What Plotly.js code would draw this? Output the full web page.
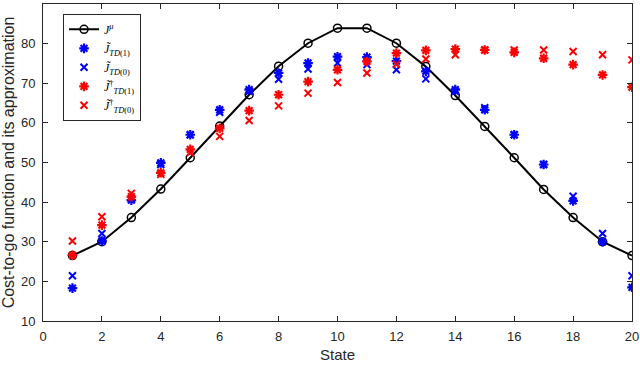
<!DOCTYPE html>
<html>
<head>
<meta charset="utf-8">
<script src="https://cdn.plot.ly/plotly-3.0.1.min.js"></script>
<style>
  html, body { margin: 0; padding: 0; background: #fff; }
  #chart { width: 640px; height: 366px; }
</style>
</head>
<body>
<div id="chart"></div>
<script>
// 状態 1..20
const states = [1, 2, 3, 4, 5, 6, 7, 8, 9, 10, 11, 12, 13, 14, 15, 16, 17, 18, 19, 20];

// J^mu (真の cost-to-go)
const jMu = [26.5, 30.0, 36.1, 43.3, 51.2, 59.2, 67.1, 74.3, 80.1, 83.9,
             83.9, 80.1, 74.2, 66.9, 59.1, 51.2, 43.2, 36.1, 30.0, 26.5];

// ~J_TD(1) (青 *)
const jTd1 = [18.3, 30.2, 40.5, 49.9, 57.0, 63.3, 68.4, 72.6, 75.1, 76.7,
              76.6, 75.6, 73.0, 68.4, 63.3, 57.0, 49.5, 40.3, 30.0, 18.5];

// ~J_TD(0) (青 x)
const jTd0 = [21.4, 32.1, 40.8, 49.5, 57.0, 62.7, 68.0, 71.0, 73.6, 75.1,
              74.7, 73.4, 71.1, 68.0, 63.8, 57.0, 49.5, 41.5, 32.1, 21.4];

// ~J†_TD(1) (赤 *)
const jDagTd1 = [26.6, 34.2, 41.4, 47.4, 53.3, 58.6, 63.1, 67.1, 70.4, 73.4,
                 75.5, 77.6, 78.3, 78.6, 78.4, 77.8, 76.3, 74.7, 72.1, 69.0];

// ~J†_TD(0) (赤 x)
const jDagTd0 = [30.2, 36.3, 42.2, 47.0, 52.5, 56.6, 60.6, 64.3, 67.5, 70.2,
                 72.6, 74.8, 76.1, 77.2, 78.4, 78.4, 78.4, 78.0, 77.2, 75.9];

const xTicks = [0, 2, 4, 6, 8, 10, 12, 14, 16, 18, 20];
const yTicks = [10, 20, 30, 40, 50, 60, 70, 80, 90];

const BLUE = '#0000ff';
const RED = '#ff0000';
const FONT = 'Liberation Sans, Arial, sans-serif';

function starTrace(y, color, name) {
    return {
        x: states, y: y, type: 'scatter', mode: 'markers', name: name,
        marker: { symbol: 'asterisk-open', size: 8, color: color, line: { color: color, width: 2.2 } }
    };
}

function crossTrace(y, color, name) {
    return {
        x: states, y: y, type: 'scatter', mode: 'markers', name: name,
        marker: { symbol: 'x-thin-open', size: 7, color: color, line: { color: color, width: 2 } }
    };
}

const traces = [
    {
        x: states, y: jMu, type: 'scatter', mode: 'lines+markers',
        name: '<i>J</i><sup><i>μ</i></sup>',
        line: { color: '#000', width: 2 },
        marker: { symbol: 'circle-open', size: 8, color: '#000', line: { color: '#000', width: 1.5 } }
    },
    starTrace(jTd1, BLUE, '<i>J̃</i><sub><i>TD</i>(1)</sub>'),
    crossTrace(jTd0, BLUE, '<i>J̃</i><sub><i>TD</i>(0)</sub>'),
    starTrace(jDagTd1, RED, '<i>J̃</i><sup>†</sup><sub><i>TD</i>(1)</sub>'),
    crossTrace(jDagTd0, RED, '<i>J̃</i><sup>†</sup><sub><i>TD</i>(0)</sub>')
];

const axisCommon = {
    showline: true, linecolor: '#262626', linewidth: 1,
    mirror: 'allticks', ticks: 'inside', ticklen: 5, tickcolor: '#262626',
    showgrid: false, zeroline: false,
    tickfont: { family: FONT, size: 13, color: '#262626' }
};

const layout = {
    width: 640, height: 366,
    margin: { l: 43, r: 8, t: 4, b: 45 },
    paper_bgcolor: '#fff', plot_bgcolor: '#fff',
    showlegend: true,
    xaxis: Object.assign({}, axisCommon, {
        range: [0, 20], tickvals: xTicks, ticklabelstandoff: 3,
        title: { text: 'State', standoff: 6, font: { family: FONT, size: 15, color: '#262626' } }
    }),
    yaxis: Object.assign({}, axisCommon, {
        range: [10, 90], tickvals: yTicks, ticklabelstandoff: 4,
        title: { text: 'Cost-to-go function and its approximation', standoff: 2, font: { family: FONT, size: 16, color: '#262626' } }
    }),
    legend: {
        x: 0.034, y: 0.969, xanchor: 'left', yanchor: 'top',
        bgcolor: '#fff', bordercolor: '#262626', borderwidth: 1,
        font: { family: 'Liberation Serif, serif', size: 12, color: '#000' },
        itemwidth: 30, tracegroupgap: 0
    }
};

Plotly.newPlot('chart', traces, layout, { displayModeBar: false, staticPlot: true });
</script>
</body>
</html>
